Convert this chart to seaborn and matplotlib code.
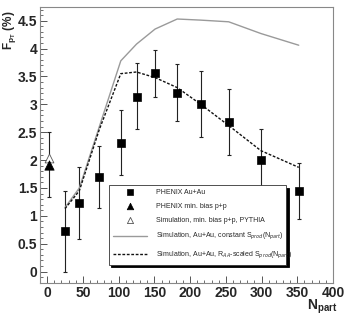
import matplotlib
matplotlib.use("Agg")
import matplotlib.pyplot as plt
import seaborn as sns
import pandas as pd
import numpy as np
from matplotlib.ticker import MultipleLocator

sns.set_style("ticks")
plt.rcParams['font.family'] = ['Liberation Sans', 'DejaVu Sans']

# PHENIX Au+Au
npart_auau = [25, 45, 73, 103, 125, 151, 182, 215, 254, 299, 352]
f_auau = [0.73, 1.23, 1.70, 2.31, 3.14, 3.56, 3.20, 3.00, 2.69, 2.00, 1.44]
f_auau_lo = [0.00, 0.58, 1.15, 1.73, 2.55, 3.13, 2.70, 2.42, 2.10, 1.45, 0.95]
f_auau_hi = [1.45, 1.88, 2.25, 2.90, 3.75, 3.98, 3.72, 3.60, 3.28, 2.55, 1.95]

# PHENIX p+p
npart_pp = [2]
f_pp = [1.92]
f_pp_lo = [1.33]
f_pp_hi = [2.50]

# Simulation p+p PYTHIA
npart_sim_pp = [2]
f_sim_pp = [2.03]

# Simulation Au+Au
npart_sim = [25, 45, 73, 103, 125, 151, 182, 215, 254, 299, 352]
f_const = [1.15, 1.50, 2.60, 3.78, 4.08, 4.35, 4.53, 4.51, 4.48, 4.27, 4.06]
f_raa = [1.13, 1.45, 2.55, 3.55, 3.58, 3.48, 3.30, 3.00, 2.62, 2.17, 1.87]

fig = plt.figure(figsize=(3.48, 3.21), dpi=100)
ax = fig.add_axes([0.115, 0.119, 0.842, 0.860])

ax.errorbar(npart_auau, f_auau,
            yerr=[np.array(f_auau) - np.array(f_auau_lo), np.array(f_auau_hi) - np.array(f_auau)],
            fmt='none', ecolor='#222222', elinewidth=0.8, capsize=1.5, capthick=0.8, zorder=2)
ax.errorbar(npart_pp, f_pp,
            yerr=[np.array(f_pp) - np.array(f_pp_lo), np.array(f_pp_hi) - np.array(f_pp)],
            fmt='none', ecolor='#222222', elinewidth=0.8, capsize=1.5, capthick=0.8, zorder=2)

df_const = pd.DataFrame({'x': npart_sim, 'y': f_const})
df_raa = pd.DataFrame({'x': npart_sim, 'y': f_raa})
sns.lineplot(data=df_const, x='x', y='y', ax=ax, color='#9a9a9a', lw=1.0, sort=False,
             label='Simulation, Au+Au, constant S$_{prod}$(N$_{part}$)', zorder=3)
sns.lineplot(data=df_raa, x='x', y='y', ax=ax, color='#111111', lw=1.0, linestyle=(0, (2, 1.2)),
             sort=False, label='Simulation, Au+Au, R$_{AA}$-scaled S$_{prod}$(N$_{part}$)', zorder=3)

sns.scatterplot(x=npart_sim_pp, y=f_sim_pp, ax=ax, marker='^', s=40, facecolor='white',
                edgecolor='#555555', linewidth=0.6, label='Simulation, min. bias p+p, PYTHIA', zorder=4)
sns.scatterplot(x=npart_pp, y=f_pp, ax=ax, marker='^', s=45, color='black', edgecolor='black',
                label='PHENIX min. bias p+p', zorder=5)
sns.scatterplot(x=npart_auau, y=f_auau, ax=ax, marker='s', s=36, color='black', edgecolor='black',
                label='PHENIX Au+Au', zorder=5)

ax.set_xlim(-10, 400)
ax.set_ylim(-0.2, 4.75)
ax.xaxis.set_major_locator(MultipleLocator(50))
ax.xaxis.set_minor_locator(MultipleLocator(10))
ax.yaxis.set_minor_locator(MultipleLocator(0.1))
ax.set_yticks([0, 0.5, 1, 1.5, 2, 2.5, 3, 3.5, 4, 4.5])
ax.set_yticklabels(['0', '0.5', '1', '1.5', '2', '2.5', '3', '3.5', '4', '4.5'])
ax.tick_params(which='major', direction='in', length=5, width=0.7, color='#555555',
               labelsize=10, pad=2)
ax.tick_params(which='minor', direction='in', length=2.5, width=0.6, color='#555555')
for lab in ax.get_xticklabels() + ax.get_yticklabels():
    lab.set_fontweight('bold')
for sp in ax.spines.values():
    sp.set_visible(True)
    sp.set_color('#888888')
    sp.set_linewidth(0.8)

ax.set_xlabel('')
ax.set_ylabel('')
fig.text(0.925, 0.015, r'N$_{\mathregular{part}}$', fontsize=10, fontweight='bold',
         ha='center', va='bottom')
fig.text(0.026, 0.905, r'F$_{\mathregular{p_T}}$ (%)', fontsize=8.5, fontweight='bold', rotation=90,
         ha='center', va='center')

handles, labels = ax.get_legend_handles_labels()
order = ['PHENIX Au+Au', 'PHENIX min. bias p+p', 'Simulation, min. bias p+p, PYTHIA',
         'Simulation, Au+Au, constant S$_{prod}$(N$_{part}$)',
         'Simulation, Au+Au, R$_{AA}$-scaled S$_{prod}$(N$_{part}$)']
hmap = dict(zip(labels, handles))
leg = ax.legend([hmap[k] for k in order], order, loc='lower left',
                bbox_to_anchor=(0.222, 0.053, 0.631, 0.272), mode='expand',
                fontsize=5, frameon=True, fancybox=False, shadow={'color': 'black', 'alpha': 1},
                edgecolor='#333333', borderpad=0.6, labelspacing=1.0, handlelength=5,
                handletextpad=1.2, markerscale=0.7)
leg.get_frame().set_linewidth(0.6)

fig.savefig('out.png', dpi=100)
